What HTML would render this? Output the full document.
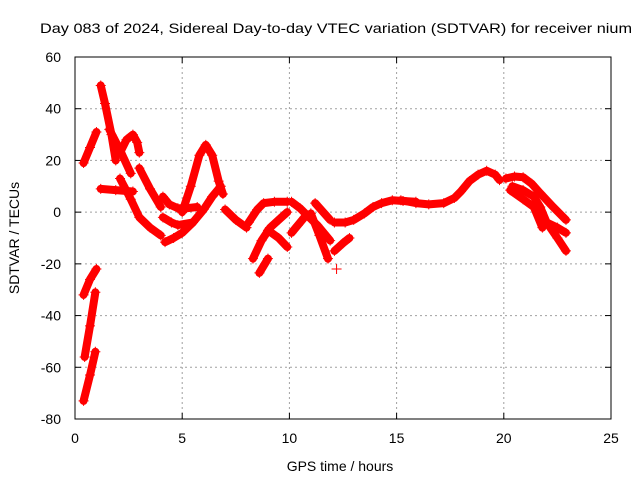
<!DOCTYPE html>
<html><head><meta charset="utf-8"><style>
html,body{margin:0;padding:0;background:#fff;}
svg{display:block;font-family:"Liberation Sans",sans-serif;}
</style></head><body>
<svg id="chart" width="640" height="480" viewBox="0 0 640 480">
<rect width="640" height="480" fill="#fff"/>
<text x="40" y="33" font-size="14" textLength="592" lengthAdjust="spacingAndGlyphs">Day 083 of 2024, Sidereal Day-to-day VTEC variation (SDTVAR) for receiver nium</text>
<g id="grid"></g>
<g id="axes"></g>
<g id="marks"></g>
<text x="340" y="471" font-size="14" text-anchor="middle">GPS time / hours</text>
<text transform="translate(19,238) rotate(-90)" font-size="14" text-anchor="middle">SDTVAR / TECUs</text>
</svg>
<script>
const xTicks=[0,5,10,15,20,25];
const yTicks=[-80,-60,-40,-20,0,20,40,60];
const passHours=[
[0.4,0.7,1.0],[1.2,1.4,1.7,1.9],[1.6,2.1,2.6],[2.1,2.4,2.7,2.9,3.0],[1.2,1.9,2.7],
[2.1,2.6,3.0,3.5,4.0],[3.0,3.5,4.0],[4.1,4.4,4.8,5.2,5.7],[4.1,4.5,4.8,5.5],[4.2,4.6,5.0,5.5,6.0,6.4,6.8],
[5.0,5.4,5.8,6.1,6.4,6.7,6.9],[7.0,7.5,8.0],
[0.4,0.7,1.0],[0.45,0.7,0.95],[0.4,0.7,0.95],
[8.1,8.5,8.8,9.3,9.9],[8.3,8.7,9.1,9.5,9.9],[8.6,9.0],[9.0,9.5,9.9],[10.1,10.5,10.8,11.3,11.9],[10.1,10.4,10.7],[11.0,11.4,11.8],[11.2,11.9],
[12.1,12.6,13.0,13.5,13.9,14.3,14.8,15.3,15.9],[12.1,12.5,12.8],[12.2],
[15.2,15.9,16.5,17.2,17.7,18.0,18.4,18.8,19.2,19.6,19.8],[20.1,20.5,20.9,21.3,21.7,22.3,22.9],[20.3,20.9,21.4,21.8],[20.4,20.9,21.4,21.7,22.0,22.5,22.9],[22.0,22.5,22.9]
];
const passValues=[
[19,25,31],[49,42,30,20],[32,24,15],[23,28,30,27,23],[9,8.5,8],
[13,5,-2,-6,-9],[17,9,2],[6,3,1.5,1.5,2],[-2,-4,-5,-4],[-11.6,-10,-8,-4,1,6,10],
[0,10,22,26,22,12,7],[1,-3,-6],
[-32,-26,-22],[-56,-44,-31],[-73,-63,-54],
[-4,1,3.5,4,4],[-18,-11,-6,-3,0],[-23.5,-18],[-7,-10,-13.5],[4,1.5,-1,-5,-11],[-8,-5,-2],[-0.5,-9,-18],[3.5,-3],
[-4,-4,-3,-0.5,2,3.5,4.6,4.3,4],[-15,-12,-10],[-22],
[4.6,3.5,3,3.5,5.5,8,12,14.5,16,14.5,12.4],[13,13.8,13.5,11,7.3,2,-3],[8.5,5,2,-6],[10,8.5,6,2,-4,-10,-15],[-4,-6,-8]
];
const X0=75,X1=611,Y0=419,Y1=57;
const xs=h=>X0+(h-0)/(25-0)*(X1-X0);
const ys=v=>Y0-(v+80)/(140)*(Y0-Y1);
const NS="http://www.w3.org/2000/svg";
const grid=document.getElementById('grid'),axes=document.getElementById('axes'),marks=document.getElementById('marks');
function mk(t,a,p){const e=document.createElementNS(NS,t);for(const k in a)e.setAttribute(k,a[k]);p.appendChild(e);return e;}
xTicks.forEach(t=>{const x=xs(t);
 if(t>0&&t<25){const g=mk('line',{x1:x,x2:x,y1:Y1,y2:Y0,stroke:'#a0a0a0','stroke-dasharray':'2,3'},grid);
 
 }
 mk('line',{x1:x,x2:x,y1:Y0,y2:Y0-6,stroke:'#000'},axes);
 mk('line',{x1:x,x2:x,y1:Y1,y2:Y1+6,stroke:'#000'},axes);
 const l=mk('text',{x:x,y:Y0+24,'font-size':14,'text-anchor':'middle'},axes);l.textContent=t;
 
 });
yTicks.forEach(t=>{const y=ys(t);
 if(t>-80&&t<60){const g=mk('line',{x1:X0,x2:X1,y1:y,y2:y,stroke:'#a0a0a0','stroke-dasharray':'2,3'},grid);
 
 }
 mk('line',{x1:X0,x2:X0+6,y1:y,y2:y,stroke:'#000'},axes);
 mk('line',{x1:X1,x2:X1-6,y1:y,y2:y,stroke:'#000'},axes);
 const l=mk('text',{x:X0-14,y:y+5,'font-size':14,'text-anchor':'end'},axes);l.textContent=t;
 
 });
const fr=mk('rect',{x:X0,y:Y1,width:X1-X0,height:Y0-Y1,fill:'none',stroke:'#000'},axes);


passHours.forEach((hs,i)=>{const vs=passValues[i];
 const pts=hs.map((h,j)=>xs(h)+','+ys(vs[j])).join(' ');
 if(hs.length>1){const pl=mk('polyline',{points:pts,fill:'none',stroke:'#f00','stroke-width':8,'stroke-linejoin':'round','stroke-linecap':'round'},marks);
 
 }
 hs.forEach((h,j)=>{const x=xs(h),y=ys(vs[j]);
  const p=mk('path',{d:`M${x-5},${y}H${x+5}M${x},${y-5}V${y+5}`,stroke:'#f00','stroke-width':1},marks);
  
  });
});
</script>
</body></html>
